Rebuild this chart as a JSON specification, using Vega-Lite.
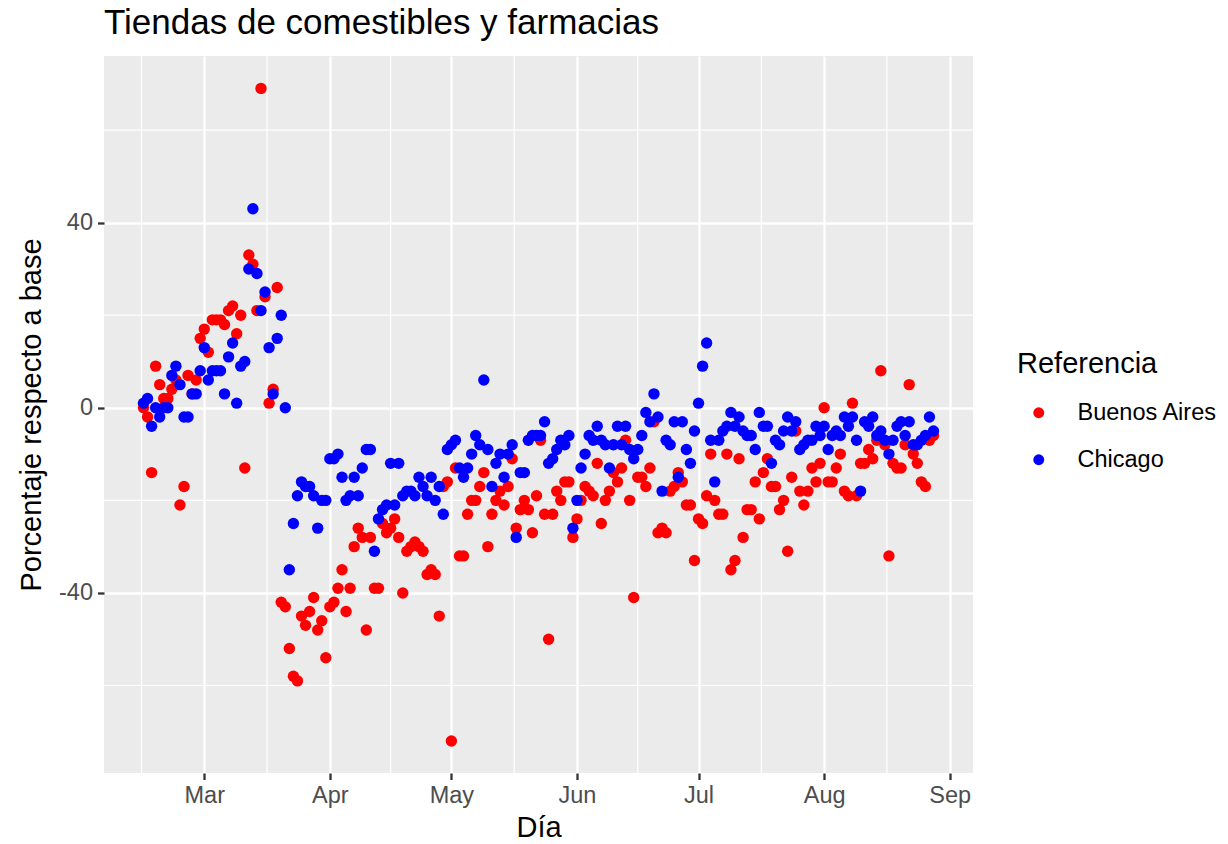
{
"$schema": "https://vega.github.io/schema/vega-lite/v6.json",
"width": 869, "height": 717,
"autosize": "none",
"padding": {"left": 104, "top": 56, "right": 255, "bottom": 71},
"background": "white",
"config": {"font": "Liberation Sans", "view": {"fill": "#EBEBEB", "stroke": null}},
"title": {"text": "Tiendas de comestibles y farmacias", "anchor": "start", "frame": "group", "fontSize": 35, "fontWeight": "normal", "color": "black", "offset": 14},
"datasets": {
"xminor": [{"fecha": "2020-02-14T12:00:00Z"}, {"fecha": "2020-03-16T12:00:00Z"}, {"fecha": "2020-04-16T00:00:00Z"}, {"fecha": "2020-05-16T12:00:00Z"}, {"fecha": "2020-06-16T00:00:00Z"}, {"fecha": "2020-07-16T12:00:00Z"}, {"fecha": "2020-08-16T12:00:00Z"}],
"yminor": [{"valor": -60}, {"valor": -20}, {"valor": 20}, {"valor": 60}],
"puntos": [
{"fecha":"2020-02-15","Referencia":"Buenos Aires","valor":0},
{"fecha":"2020-02-16","Referencia":"Buenos Aires","valor":-2},
{"fecha":"2020-02-17","Referencia":"Buenos Aires","valor":-14},
{"fecha":"2020-02-18","Referencia":"Buenos Aires","valor":9},
{"fecha":"2020-02-19","Referencia":"Buenos Aires","valor":5},
{"fecha":"2020-02-20","Referencia":"Buenos Aires","valor":2},
{"fecha":"2020-02-21","Referencia":"Buenos Aires","valor":2},
{"fecha":"2020-02-22","Referencia":"Buenos Aires","valor":4},
{"fecha":"2020-02-23","Referencia":"Buenos Aires","valor":6},
{"fecha":"2020-02-24","Referencia":"Buenos Aires","valor":-21},
{"fecha":"2020-02-25","Referencia":"Buenos Aires","valor":-17},
{"fecha":"2020-02-26","Referencia":"Buenos Aires","valor":7},
{"fecha":"2020-02-27","Referencia":"Buenos Aires","valor":3},
{"fecha":"2020-02-28","Referencia":"Buenos Aires","valor":6},
{"fecha":"2020-02-29","Referencia":"Buenos Aires","valor":15},
{"fecha":"2020-03-01","Referencia":"Buenos Aires","valor":17},
{"fecha":"2020-03-02","Referencia":"Buenos Aires","valor":12},
{"fecha":"2020-03-03","Referencia":"Buenos Aires","valor":19},
{"fecha":"2020-03-04","Referencia":"Buenos Aires","valor":19},
{"fecha":"2020-03-05","Referencia":"Buenos Aires","valor":19},
{"fecha":"2020-03-06","Referencia":"Buenos Aires","valor":18},
{"fecha":"2020-03-07","Referencia":"Buenos Aires","valor":21},
{"fecha":"2020-03-08","Referencia":"Buenos Aires","valor":22},
{"fecha":"2020-03-09","Referencia":"Buenos Aires","valor":16},
{"fecha":"2020-03-10","Referencia":"Buenos Aires","valor":20},
{"fecha":"2020-03-11","Referencia":"Buenos Aires","valor":-13},
{"fecha":"2020-03-12","Referencia":"Buenos Aires","valor":33},
{"fecha":"2020-03-13","Referencia":"Buenos Aires","valor":31},
{"fecha":"2020-03-14","Referencia":"Buenos Aires","valor":21},
{"fecha":"2020-03-15","Referencia":"Buenos Aires","valor":69},
{"fecha":"2020-03-16","Referencia":"Buenos Aires","valor":24},
{"fecha":"2020-03-17","Referencia":"Buenos Aires","valor":1},
{"fecha":"2020-03-18","Referencia":"Buenos Aires","valor":4},
{"fecha":"2020-03-19","Referencia":"Buenos Aires","valor":26},
{"fecha":"2020-03-20","Referencia":"Buenos Aires","valor":-42},
{"fecha":"2020-03-21","Referencia":"Buenos Aires","valor":-43},
{"fecha":"2020-03-22","Referencia":"Buenos Aires","valor":-52},
{"fecha":"2020-03-23","Referencia":"Buenos Aires","valor":-58},
{"fecha":"2020-03-24","Referencia":"Buenos Aires","valor":-59},
{"fecha":"2020-03-25","Referencia":"Buenos Aires","valor":-45},
{"fecha":"2020-03-26","Referencia":"Buenos Aires","valor":-47},
{"fecha":"2020-03-27","Referencia":"Buenos Aires","valor":-44},
{"fecha":"2020-03-28","Referencia":"Buenos Aires","valor":-41},
{"fecha":"2020-03-29","Referencia":"Buenos Aires","valor":-48},
{"fecha":"2020-03-30","Referencia":"Buenos Aires","valor":-46},
{"fecha":"2020-03-31","Referencia":"Buenos Aires","valor":-54},
{"fecha":"2020-04-01","Referencia":"Buenos Aires","valor":-43},
{"fecha":"2020-04-02","Referencia":"Buenos Aires","valor":-42},
{"fecha":"2020-04-03","Referencia":"Buenos Aires","valor":-39},
{"fecha":"2020-04-04","Referencia":"Buenos Aires","valor":-35},
{"fecha":"2020-04-05","Referencia":"Buenos Aires","valor":-44},
{"fecha":"2020-04-06","Referencia":"Buenos Aires","valor":-39},
{"fecha":"2020-04-07","Referencia":"Buenos Aires","valor":-30},
{"fecha":"2020-04-08","Referencia":"Buenos Aires","valor":-26},
{"fecha":"2020-04-09","Referencia":"Buenos Aires","valor":-28},
{"fecha":"2020-04-10","Referencia":"Buenos Aires","valor":-48},
{"fecha":"2020-04-11","Referencia":"Buenos Aires","valor":-28},
{"fecha":"2020-04-12","Referencia":"Buenos Aires","valor":-39},
{"fecha":"2020-04-13","Referencia":"Buenos Aires","valor":-39},
{"fecha":"2020-04-14","Referencia":"Buenos Aires","valor":-25},
{"fecha":"2020-04-15","Referencia":"Buenos Aires","valor":-27},
{"fecha":"2020-04-16","Referencia":"Buenos Aires","valor":-26},
{"fecha":"2020-04-17","Referencia":"Buenos Aires","valor":-24},
{"fecha":"2020-04-18","Referencia":"Buenos Aires","valor":-28},
{"fecha":"2020-04-19","Referencia":"Buenos Aires","valor":-40},
{"fecha":"2020-04-20","Referencia":"Buenos Aires","valor":-31},
{"fecha":"2020-04-21","Referencia":"Buenos Aires","valor":-30},
{"fecha":"2020-04-22","Referencia":"Buenos Aires","valor":-29},
{"fecha":"2020-04-23","Referencia":"Buenos Aires","valor":-30},
{"fecha":"2020-04-24","Referencia":"Buenos Aires","valor":-31},
{"fecha":"2020-04-25","Referencia":"Buenos Aires","valor":-36},
{"fecha":"2020-04-26","Referencia":"Buenos Aires","valor":-35},
{"fecha":"2020-04-27","Referencia":"Buenos Aires","valor":-36},
{"fecha":"2020-04-28","Referencia":"Buenos Aires","valor":-45},
{"fecha":"2020-04-29","Referencia":"Buenos Aires","valor":-17},
{"fecha":"2020-04-30","Referencia":"Buenos Aires","valor":-16},
{"fecha":"2020-05-01","Referencia":"Buenos Aires","valor":-72},
{"fecha":"2020-05-02","Referencia":"Buenos Aires","valor":-13},
{"fecha":"2020-05-03","Referencia":"Buenos Aires","valor":-32},
{"fecha":"2020-05-04","Referencia":"Buenos Aires","valor":-32},
{"fecha":"2020-05-05","Referencia":"Buenos Aires","valor":-23},
{"fecha":"2020-05-06","Referencia":"Buenos Aires","valor":-20},
{"fecha":"2020-05-07","Referencia":"Buenos Aires","valor":-20},
{"fecha":"2020-05-08","Referencia":"Buenos Aires","valor":-17},
{"fecha":"2020-05-09","Referencia":"Buenos Aires","valor":-14},
{"fecha":"2020-05-10","Referencia":"Buenos Aires","valor":-30},
{"fecha":"2020-05-11","Referencia":"Buenos Aires","valor":-23},
{"fecha":"2020-05-12","Referencia":"Buenos Aires","valor":-20},
{"fecha":"2020-05-13","Referencia":"Buenos Aires","valor":-18},
{"fecha":"2020-05-14","Referencia":"Buenos Aires","valor":-21},
{"fecha":"2020-05-15","Referencia":"Buenos Aires","valor":-17},
{"fecha":"2020-05-16","Referencia":"Buenos Aires","valor":-11},
{"fecha":"2020-05-17","Referencia":"Buenos Aires","valor":-26},
{"fecha":"2020-05-18","Referencia":"Buenos Aires","valor":-22},
{"fecha":"2020-05-19","Referencia":"Buenos Aires","valor":-20},
{"fecha":"2020-05-20","Referencia":"Buenos Aires","valor":-22},
{"fecha":"2020-05-21","Referencia":"Buenos Aires","valor":-27},
{"fecha":"2020-05-22","Referencia":"Buenos Aires","valor":-19},
{"fecha":"2020-05-23","Referencia":"Buenos Aires","valor":-7},
{"fecha":"2020-05-24","Referencia":"Buenos Aires","valor":-23},
{"fecha":"2020-05-25","Referencia":"Buenos Aires","valor":-50},
{"fecha":"2020-05-26","Referencia":"Buenos Aires","valor":-23},
{"fecha":"2020-05-27","Referencia":"Buenos Aires","valor":-18},
{"fecha":"2020-05-28","Referencia":"Buenos Aires","valor":-20},
{"fecha":"2020-05-29","Referencia":"Buenos Aires","valor":-16},
{"fecha":"2020-05-30","Referencia":"Buenos Aires","valor":-16},
{"fecha":"2020-05-31","Referencia":"Buenos Aires","valor":-28},
{"fecha":"2020-06-01","Referencia":"Buenos Aires","valor":-24},
{"fecha":"2020-06-02","Referencia":"Buenos Aires","valor":-20},
{"fecha":"2020-06-03","Referencia":"Buenos Aires","valor":-17},
{"fecha":"2020-06-04","Referencia":"Buenos Aires","valor":-18},
{"fecha":"2020-06-05","Referencia":"Buenos Aires","valor":-19},
{"fecha":"2020-06-06","Referencia":"Buenos Aires","valor":-12},
{"fecha":"2020-06-07","Referencia":"Buenos Aires","valor":-25},
{"fecha":"2020-06-08","Referencia":"Buenos Aires","valor":-20},
{"fecha":"2020-06-09","Referencia":"Buenos Aires","valor":-18},
{"fecha":"2020-06-10","Referencia":"Buenos Aires","valor":-14},
{"fecha":"2020-06-11","Referencia":"Buenos Aires","valor":-16},
{"fecha":"2020-06-12","Referencia":"Buenos Aires","valor":-13},
{"fecha":"2020-06-13","Referencia":"Buenos Aires","valor":-7},
{"fecha":"2020-06-14","Referencia":"Buenos Aires","valor":-20},
{"fecha":"2020-06-15","Referencia":"Buenos Aires","valor":-41},
{"fecha":"2020-06-16","Referencia":"Buenos Aires","valor":-15},
{"fecha":"2020-06-17","Referencia":"Buenos Aires","valor":-15},
{"fecha":"2020-06-18","Referencia":"Buenos Aires","valor":-17},
{"fecha":"2020-06-19","Referencia":"Buenos Aires","valor":-13},
{"fecha":"2020-06-20","Referencia":"Buenos Aires","valor":-3},
{"fecha":"2020-06-21","Referencia":"Buenos Aires","valor":-27},
{"fecha":"2020-06-22","Referencia":"Buenos Aires","valor":-26},
{"fecha":"2020-06-23","Referencia":"Buenos Aires","valor":-27},
{"fecha":"2020-06-24","Referencia":"Buenos Aires","valor":-18},
{"fecha":"2020-06-25","Referencia":"Buenos Aires","valor":-17},
{"fecha":"2020-06-26","Referencia":"Buenos Aires","valor":-14},
{"fecha":"2020-06-27","Referencia":"Buenos Aires","valor":-16},
{"fecha":"2020-06-28","Referencia":"Buenos Aires","valor":-21},
{"fecha":"2020-06-29","Referencia":"Buenos Aires","valor":-21},
{"fecha":"2020-06-30","Referencia":"Buenos Aires","valor":-33},
{"fecha":"2020-07-01","Referencia":"Buenos Aires","valor":-24},
{"fecha":"2020-07-02","Referencia":"Buenos Aires","valor":-25},
{"fecha":"2020-07-03","Referencia":"Buenos Aires","valor":-19},
{"fecha":"2020-07-04","Referencia":"Buenos Aires","valor":-10},
{"fecha":"2020-07-05","Referencia":"Buenos Aires","valor":-20},
{"fecha":"2020-07-06","Referencia":"Buenos Aires","valor":-23},
{"fecha":"2020-07-07","Referencia":"Buenos Aires","valor":-23},
{"fecha":"2020-07-08","Referencia":"Buenos Aires","valor":-10},
{"fecha":"2020-07-09","Referencia":"Buenos Aires","valor":-35},
{"fecha":"2020-07-10","Referencia":"Buenos Aires","valor":-33},
{"fecha":"2020-07-11","Referencia":"Buenos Aires","valor":-11},
{"fecha":"2020-07-12","Referencia":"Buenos Aires","valor":-28},
{"fecha":"2020-07-13","Referencia":"Buenos Aires","valor":-22},
{"fecha":"2020-07-14","Referencia":"Buenos Aires","valor":-22},
{"fecha":"2020-07-15","Referencia":"Buenos Aires","valor":-16},
{"fecha":"2020-07-16","Referencia":"Buenos Aires","valor":-24},
{"fecha":"2020-07-17","Referencia":"Buenos Aires","valor":-14},
{"fecha":"2020-07-18","Referencia":"Buenos Aires","valor":-11},
{"fecha":"2020-07-19","Referencia":"Buenos Aires","valor":-17},
{"fecha":"2020-07-20","Referencia":"Buenos Aires","valor":-17},
{"fecha":"2020-07-21","Referencia":"Buenos Aires","valor":-22},
{"fecha":"2020-07-22","Referencia":"Buenos Aires","valor":-20},
{"fecha":"2020-07-23","Referencia":"Buenos Aires","valor":-31},
{"fecha":"2020-07-24","Referencia":"Buenos Aires","valor":-15},
{"fecha":"2020-07-25","Referencia":"Buenos Aires","valor":-5},
{"fecha":"2020-07-26","Referencia":"Buenos Aires","valor":-18},
{"fecha":"2020-07-27","Referencia":"Buenos Aires","valor":-21},
{"fecha":"2020-07-28","Referencia":"Buenos Aires","valor":-18},
{"fecha":"2020-07-29","Referencia":"Buenos Aires","valor":-13},
{"fecha":"2020-07-30","Referencia":"Buenos Aires","valor":-16},
{"fecha":"2020-07-31","Referencia":"Buenos Aires","valor":-12},
{"fecha":"2020-08-01","Referencia":"Buenos Aires","valor":0},
{"fecha":"2020-08-02","Referencia":"Buenos Aires","valor":-16},
{"fecha":"2020-08-03","Referencia":"Buenos Aires","valor":-16},
{"fecha":"2020-08-04","Referencia":"Buenos Aires","valor":-13},
{"fecha":"2020-08-05","Referencia":"Buenos Aires","valor":-10},
{"fecha":"2020-08-06","Referencia":"Buenos Aires","valor":-18},
{"fecha":"2020-08-07","Referencia":"Buenos Aires","valor":-19},
{"fecha":"2020-08-08","Referencia":"Buenos Aires","valor":1},
{"fecha":"2020-08-09","Referencia":"Buenos Aires","valor":-19},
{"fecha":"2020-08-10","Referencia":"Buenos Aires","valor":-12},
{"fecha":"2020-08-11","Referencia":"Buenos Aires","valor":-12},
{"fecha":"2020-08-12","Referencia":"Buenos Aires","valor":-9},
{"fecha":"2020-08-13","Referencia":"Buenos Aires","valor":-11},
{"fecha":"2020-08-14","Referencia":"Buenos Aires","valor":-7},
{"fecha":"2020-08-15","Referencia":"Buenos Aires","valor":8},
{"fecha":"2020-08-16","Referencia":"Buenos Aires","valor":-8},
{"fecha":"2020-08-17","Referencia":"Buenos Aires","valor":-32},
{"fecha":"2020-08-18","Referencia":"Buenos Aires","valor":-12},
{"fecha":"2020-08-19","Referencia":"Buenos Aires","valor":-13},
{"fecha":"2020-08-20","Referencia":"Buenos Aires","valor":-13},
{"fecha":"2020-08-21","Referencia":"Buenos Aires","valor":-8},
{"fecha":"2020-08-22","Referencia":"Buenos Aires","valor":5},
{"fecha":"2020-08-23","Referencia":"Buenos Aires","valor":-10},
{"fecha":"2020-08-24","Referencia":"Buenos Aires","valor":-12},
{"fecha":"2020-08-25","Referencia":"Buenos Aires","valor":-16},
{"fecha":"2020-08-26","Referencia":"Buenos Aires","valor":-17},
{"fecha":"2020-08-27","Referencia":"Buenos Aires","valor":-7},
{"fecha":"2020-08-28","Referencia":"Buenos Aires","valor":-6},
{"fecha":"2020-02-15","Referencia":"Chicago","valor":1},
{"fecha":"2020-02-16","Referencia":"Chicago","valor":2},
{"fecha":"2020-02-17","Referencia":"Chicago","valor":-4},
{"fecha":"2020-02-18","Referencia":"Chicago","valor":0},
{"fecha":"2020-02-19","Referencia":"Chicago","valor":-2},
{"fecha":"2020-02-20","Referencia":"Chicago","valor":0},
{"fecha":"2020-02-21","Referencia":"Chicago","valor":0},
{"fecha":"2020-02-22","Referencia":"Chicago","valor":7},
{"fecha":"2020-02-23","Referencia":"Chicago","valor":9},
{"fecha":"2020-02-24","Referencia":"Chicago","valor":5},
{"fecha":"2020-02-25","Referencia":"Chicago","valor":-2},
{"fecha":"2020-02-26","Referencia":"Chicago","valor":-2},
{"fecha":"2020-02-27","Referencia":"Chicago","valor":3},
{"fecha":"2020-02-28","Referencia":"Chicago","valor":3},
{"fecha":"2020-02-29","Referencia":"Chicago","valor":8},
{"fecha":"2020-03-01","Referencia":"Chicago","valor":13},
{"fecha":"2020-03-02","Referencia":"Chicago","valor":6},
{"fecha":"2020-03-03","Referencia":"Chicago","valor":8},
{"fecha":"2020-03-04","Referencia":"Chicago","valor":8},
{"fecha":"2020-03-05","Referencia":"Chicago","valor":8},
{"fecha":"2020-03-06","Referencia":"Chicago","valor":3},
{"fecha":"2020-03-07","Referencia":"Chicago","valor":11},
{"fecha":"2020-03-08","Referencia":"Chicago","valor":14},
{"fecha":"2020-03-09","Referencia":"Chicago","valor":1},
{"fecha":"2020-03-10","Referencia":"Chicago","valor":9},
{"fecha":"2020-03-11","Referencia":"Chicago","valor":10},
{"fecha":"2020-03-12","Referencia":"Chicago","valor":30},
{"fecha":"2020-03-13","Referencia":"Chicago","valor":43},
{"fecha":"2020-03-14","Referencia":"Chicago","valor":29},
{"fecha":"2020-03-15","Referencia":"Chicago","valor":21},
{"fecha":"2020-03-16","Referencia":"Chicago","valor":25},
{"fecha":"2020-03-17","Referencia":"Chicago","valor":13},
{"fecha":"2020-03-18","Referencia":"Chicago","valor":3},
{"fecha":"2020-03-19","Referencia":"Chicago","valor":15},
{"fecha":"2020-03-20","Referencia":"Chicago","valor":20},
{"fecha":"2020-03-21","Referencia":"Chicago","valor":0},
{"fecha":"2020-03-22","Referencia":"Chicago","valor":-35},
{"fecha":"2020-03-23","Referencia":"Chicago","valor":-25},
{"fecha":"2020-03-24","Referencia":"Chicago","valor":-19},
{"fecha":"2020-03-25","Referencia":"Chicago","valor":-16},
{"fecha":"2020-03-26","Referencia":"Chicago","valor":-17},
{"fecha":"2020-03-27","Referencia":"Chicago","valor":-17},
{"fecha":"2020-03-28","Referencia":"Chicago","valor":-19},
{"fecha":"2020-03-29","Referencia":"Chicago","valor":-26},
{"fecha":"2020-03-30","Referencia":"Chicago","valor":-20},
{"fecha":"2020-03-31","Referencia":"Chicago","valor":-20},
{"fecha":"2020-04-01","Referencia":"Chicago","valor":-11},
{"fecha":"2020-04-02","Referencia":"Chicago","valor":-11},
{"fecha":"2020-04-03","Referencia":"Chicago","valor":-10},
{"fecha":"2020-04-04","Referencia":"Chicago","valor":-15},
{"fecha":"2020-04-05","Referencia":"Chicago","valor":-20},
{"fecha":"2020-04-06","Referencia":"Chicago","valor":-19},
{"fecha":"2020-04-07","Referencia":"Chicago","valor":-15},
{"fecha":"2020-04-08","Referencia":"Chicago","valor":-19},
{"fecha":"2020-04-09","Referencia":"Chicago","valor":-13},
{"fecha":"2020-04-10","Referencia":"Chicago","valor":-9},
{"fecha":"2020-04-11","Referencia":"Chicago","valor":-9},
{"fecha":"2020-04-12","Referencia":"Chicago","valor":-31},
{"fecha":"2020-04-13","Referencia":"Chicago","valor":-24},
{"fecha":"2020-04-14","Referencia":"Chicago","valor":-22},
{"fecha":"2020-04-15","Referencia":"Chicago","valor":-21},
{"fecha":"2020-04-16","Referencia":"Chicago","valor":-12},
{"fecha":"2020-04-17","Referencia":"Chicago","valor":-21},
{"fecha":"2020-04-18","Referencia":"Chicago","valor":-12},
{"fecha":"2020-04-19","Referencia":"Chicago","valor":-19},
{"fecha":"2020-04-20","Referencia":"Chicago","valor":-18},
{"fecha":"2020-04-21","Referencia":"Chicago","valor":-18},
{"fecha":"2020-04-22","Referencia":"Chicago","valor":-19},
{"fecha":"2020-04-23","Referencia":"Chicago","valor":-15},
{"fecha":"2020-04-24","Referencia":"Chicago","valor":-17},
{"fecha":"2020-04-25","Referencia":"Chicago","valor":-19},
{"fecha":"2020-04-26","Referencia":"Chicago","valor":-15},
{"fecha":"2020-04-27","Referencia":"Chicago","valor":-20},
{"fecha":"2020-04-28","Referencia":"Chicago","valor":-17},
{"fecha":"2020-04-29","Referencia":"Chicago","valor":-23},
{"fecha":"2020-04-30","Referencia":"Chicago","valor":-9},
{"fecha":"2020-05-01","Referencia":"Chicago","valor":-8},
{"fecha":"2020-05-02","Referencia":"Chicago","valor":-7},
{"fecha":"2020-05-03","Referencia":"Chicago","valor":-13},
{"fecha":"2020-05-04","Referencia":"Chicago","valor":-15},
{"fecha":"2020-05-05","Referencia":"Chicago","valor":-13},
{"fecha":"2020-05-06","Referencia":"Chicago","valor":-10},
{"fecha":"2020-05-07","Referencia":"Chicago","valor":-6},
{"fecha":"2020-05-08","Referencia":"Chicago","valor":-8},
{"fecha":"2020-05-09","Referencia":"Chicago","valor":6},
{"fecha":"2020-05-10","Referencia":"Chicago","valor":-9},
{"fecha":"2020-05-11","Referencia":"Chicago","valor":-17},
{"fecha":"2020-05-12","Referencia":"Chicago","valor":-12},
{"fecha":"2020-05-13","Referencia":"Chicago","valor":-10},
{"fecha":"2020-05-14","Referencia":"Chicago","valor":-15},
{"fecha":"2020-05-15","Referencia":"Chicago","valor":-10},
{"fecha":"2020-05-16","Referencia":"Chicago","valor":-8},
{"fecha":"2020-05-17","Referencia":"Chicago","valor":-28},
{"fecha":"2020-05-18","Referencia":"Chicago","valor":-14},
{"fecha":"2020-05-19","Referencia":"Chicago","valor":-14},
{"fecha":"2020-05-20","Referencia":"Chicago","valor":-7},
{"fecha":"2020-05-21","Referencia":"Chicago","valor":-6},
{"fecha":"2020-05-22","Referencia":"Chicago","valor":-6},
{"fecha":"2020-05-23","Referencia":"Chicago","valor":-6},
{"fecha":"2020-05-24","Referencia":"Chicago","valor":-3},
{"fecha":"2020-05-25","Referencia":"Chicago","valor":-12},
{"fecha":"2020-05-26","Referencia":"Chicago","valor":-11},
{"fecha":"2020-05-27","Referencia":"Chicago","valor":-9},
{"fecha":"2020-05-28","Referencia":"Chicago","valor":-7},
{"fecha":"2020-05-29","Referencia":"Chicago","valor":-8},
{"fecha":"2020-05-30","Referencia":"Chicago","valor":-6},
{"fecha":"2020-05-31","Referencia":"Chicago","valor":-26},
{"fecha":"2020-06-01","Referencia":"Chicago","valor":-20},
{"fecha":"2020-06-02","Referencia":"Chicago","valor":-13},
{"fecha":"2020-06-03","Referencia":"Chicago","valor":-10},
{"fecha":"2020-06-04","Referencia":"Chicago","valor":-6},
{"fecha":"2020-06-05","Referencia":"Chicago","valor":-7},
{"fecha":"2020-06-06","Referencia":"Chicago","valor":-4},
{"fecha":"2020-06-07","Referencia":"Chicago","valor":-7},
{"fecha":"2020-06-08","Referencia":"Chicago","valor":-8},
{"fecha":"2020-06-09","Referencia":"Chicago","valor":-13},
{"fecha":"2020-06-10","Referencia":"Chicago","valor":-8},
{"fecha":"2020-06-11","Referencia":"Chicago","valor":-4},
{"fecha":"2020-06-12","Referencia":"Chicago","valor":-8},
{"fecha":"2020-06-13","Referencia":"Chicago","valor":-4},
{"fecha":"2020-06-14","Referencia":"Chicago","valor":-9},
{"fecha":"2020-06-15","Referencia":"Chicago","valor":-11},
{"fecha":"2020-06-16","Referencia":"Chicago","valor":-9},
{"fecha":"2020-06-17","Referencia":"Chicago","valor":-6},
{"fecha":"2020-06-18","Referencia":"Chicago","valor":-1},
{"fecha":"2020-06-19","Referencia":"Chicago","valor":-3},
{"fecha":"2020-06-20","Referencia":"Chicago","valor":3},
{"fecha":"2020-06-21","Referencia":"Chicago","valor":-2},
{"fecha":"2020-06-22","Referencia":"Chicago","valor":-18},
{"fecha":"2020-06-23","Referencia":"Chicago","valor":-7},
{"fecha":"2020-06-24","Referencia":"Chicago","valor":-8},
{"fecha":"2020-06-25","Referencia":"Chicago","valor":-3},
{"fecha":"2020-06-26","Referencia":"Chicago","valor":-15},
{"fecha":"2020-06-27","Referencia":"Chicago","valor":-3},
{"fecha":"2020-06-28","Referencia":"Chicago","valor":-9},
{"fecha":"2020-06-29","Referencia":"Chicago","valor":-12},
{"fecha":"2020-06-30","Referencia":"Chicago","valor":-5},
{"fecha":"2020-07-01","Referencia":"Chicago","valor":1},
{"fecha":"2020-07-02","Referencia":"Chicago","valor":9},
{"fecha":"2020-07-03","Referencia":"Chicago","valor":14},
{"fecha":"2020-07-04","Referencia":"Chicago","valor":-7},
{"fecha":"2020-07-05","Referencia":"Chicago","valor":-16},
{"fecha":"2020-07-06","Referencia":"Chicago","valor":-7},
{"fecha":"2020-07-07","Referencia":"Chicago","valor":-5},
{"fecha":"2020-07-08","Referencia":"Chicago","valor":-4},
{"fecha":"2020-07-09","Referencia":"Chicago","valor":-1},
{"fecha":"2020-07-10","Referencia":"Chicago","valor":-4},
{"fecha":"2020-07-11","Referencia":"Chicago","valor":-2},
{"fecha":"2020-07-12","Referencia":"Chicago","valor":-5},
{"fecha":"2020-07-13","Referencia":"Chicago","valor":-6},
{"fecha":"2020-07-14","Referencia":"Chicago","valor":-6},
{"fecha":"2020-07-15","Referencia":"Chicago","valor":-9},
{"fecha":"2020-07-16","Referencia":"Chicago","valor":-1},
{"fecha":"2020-07-17","Referencia":"Chicago","valor":-4},
{"fecha":"2020-07-18","Referencia":"Chicago","valor":-4},
{"fecha":"2020-07-19","Referencia":"Chicago","valor":-12},
{"fecha":"2020-07-20","Referencia":"Chicago","valor":-7},
{"fecha":"2020-07-21","Referencia":"Chicago","valor":-8},
{"fecha":"2020-07-22","Referencia":"Chicago","valor":-5},
{"fecha":"2020-07-23","Referencia":"Chicago","valor":-2},
{"fecha":"2020-07-24","Referencia":"Chicago","valor":-5},
{"fecha":"2020-07-25","Referencia":"Chicago","valor":-3},
{"fecha":"2020-07-26","Referencia":"Chicago","valor":-9},
{"fecha":"2020-07-27","Referencia":"Chicago","valor":-8},
{"fecha":"2020-07-28","Referencia":"Chicago","valor":-7},
{"fecha":"2020-07-29","Referencia":"Chicago","valor":-7},
{"fecha":"2020-07-30","Referencia":"Chicago","valor":-4},
{"fecha":"2020-07-31","Referencia":"Chicago","valor":-6},
{"fecha":"2020-08-01","Referencia":"Chicago","valor":-4},
{"fecha":"2020-08-02","Referencia":"Chicago","valor":-9},
{"fecha":"2020-08-03","Referencia":"Chicago","valor":-6},
{"fecha":"2020-08-04","Referencia":"Chicago","valor":-5},
{"fecha":"2020-08-05","Referencia":"Chicago","valor":-6},
{"fecha":"2020-08-06","Referencia":"Chicago","valor":-2},
{"fecha":"2020-08-07","Referencia":"Chicago","valor":-4},
{"fecha":"2020-08-08","Referencia":"Chicago","valor":-2},
{"fecha":"2020-08-09","Referencia":"Chicago","valor":-7},
{"fecha":"2020-08-10","Referencia":"Chicago","valor":-18},
{"fecha":"2020-08-11","Referencia":"Chicago","valor":-3},
{"fecha":"2020-08-12","Referencia":"Chicago","valor":-4},
{"fecha":"2020-08-13","Referencia":"Chicago","valor":-2},
{"fecha":"2020-08-14","Referencia":"Chicago","valor":-6},
{"fecha":"2020-08-15","Referencia":"Chicago","valor":-5},
{"fecha":"2020-08-16","Referencia":"Chicago","valor":-7},
{"fecha":"2020-08-17","Referencia":"Chicago","valor":-10},
{"fecha":"2020-08-18","Referencia":"Chicago","valor":-7},
{"fecha":"2020-08-19","Referencia":"Chicago","valor":-4},
{"fecha":"2020-08-20","Referencia":"Chicago","valor":-3},
{"fecha":"2020-08-21","Referencia":"Chicago","valor":-6},
{"fecha":"2020-08-22","Referencia":"Chicago","valor":-3},
{"fecha":"2020-08-23","Referencia":"Chicago","valor":-8},
{"fecha":"2020-08-24","Referencia":"Chicago","valor":-8},
{"fecha":"2020-08-25","Referencia":"Chicago","valor":-7},
{"fecha":"2020-08-26","Referencia":"Chicago","valor":-6},
{"fecha":"2020-08-27","Referencia":"Chicago","valor":-2},
{"fecha":"2020-08-28","Referencia":"Chicago","valor":-5}
]
},
"layer": [
{
"data": {"name": "yminor"},
"mark": {"type": "rule", "color": "white", "strokeWidth": 1.2},
"encoding": {
"y": {"field": "valor", "type": "quantitative", "title": "Porcentaje respecto a base", "scale": {"domain": [-78.9, 76], "nice": false, "zero": false}}
}
},
{
"data": {"name": "xminor"},
"mark": {"type": "rule", "color": "white", "strokeWidth": 1.2},
"encoding": {
"x": {"field": "fecha", "type": "temporal", "title": "Día", "scale": {"type": "utc", "domain": [{"year": 2020, "month": 2, "date": 5, "hours": 6, "utc": true}, {"year": 2020, "month": 9, "date": 6, "hours": 18, "utc": true}], "nice": false}}
}
},
{
"data": {"name": "puntos"},
"mark": {"type": "circle", "size": 130, "opacity": 1},
"encoding": {
"x": {"field": "fecha", "type": "temporal", "title": "Día",
"scale": {"type": "utc", "domain": [{"year": 2020, "month": 2, "date": 5, "hours": 6, "utc": true}, {"year": 2020, "month": 9, "date": 6, "hours": 18, "utc": true}], "nice": false},
"axis": {"values": [{"year": 2020, "month": 3, "date": 1, "utc": true}, {"year": 2020, "month": 4, "date": 1, "utc": true}, {"year": 2020, "month": 5, "date": 1, "utc": true}, {"year": 2020, "month": 6, "date": 1, "utc": true}, {"year": 2020, "month": 7, "date": 1, "utc": true}, {"year": 2020, "month": 8, "date": 1, "utc": true}, {"year": 2020, "month": 9, "date": 1, "utc": true}],
"labelExpr": "utcFormat(datum.value, '%b')", "grid": true, "gridColor": "white", "gridWidth": 2.3, "domain": false,
"tickColor": "#333333", "tickWidth": 2.3, "tickSize": 6.5, "labelColor": "#4D4D4D", "labelFontSize": 23.5, "labelPadding": 4,
"labelFlush": false, "labelOverlap": false, "titleFontSize": 29, "titleFontWeight": "normal", "titleColor": "black", "titlePadding": 6}},
"y": {"field": "valor", "type": "quantitative", "title": "Porcentaje respecto a base",
"scale": {"domain": [-78.9, 76], "nice": false, "zero": false},
"axis": {"values": [-40, 0, 40], "labelExpr": "datum.value < 0 ? '-' + abs(datum.value) : '' + datum.value", "grid": true, "gridColor": "white", "gridWidth": 2.3, "domain": false,
"tickColor": "#333333", "tickWidth": 2.3, "tickSize": 6.5, "labelColor": "#4D4D4D", "labelFontSize": 23.5, "labelPadding": 5,
"titleFontSize": 29, "titleFontWeight": "normal", "titleColor": "black", "titlePadding": 12}},
"color": {"field": "Referencia", "type": "nominal",
"scale": {"domain": ["Buenos Aires", "Chicago"], "range": ["#FF0000", "#0000FF"]},
"legend": {"orient": "none", "legendX": 913, "legendY": 294, "padding": 0, "title": "Referencia", "titleFontSize": 29, "titleFontWeight": "normal", "titleColor": "black",
"labelFontSize": 23.5, "labelColor": "black", "symbolType": "circle", "symbolSize": 120, "symbolOffset": 10, "labelOffset": 27, "rowPadding": 22, "titlePadding": 22, "symbolStrokeWidth": 0}}
}
}
]
}
